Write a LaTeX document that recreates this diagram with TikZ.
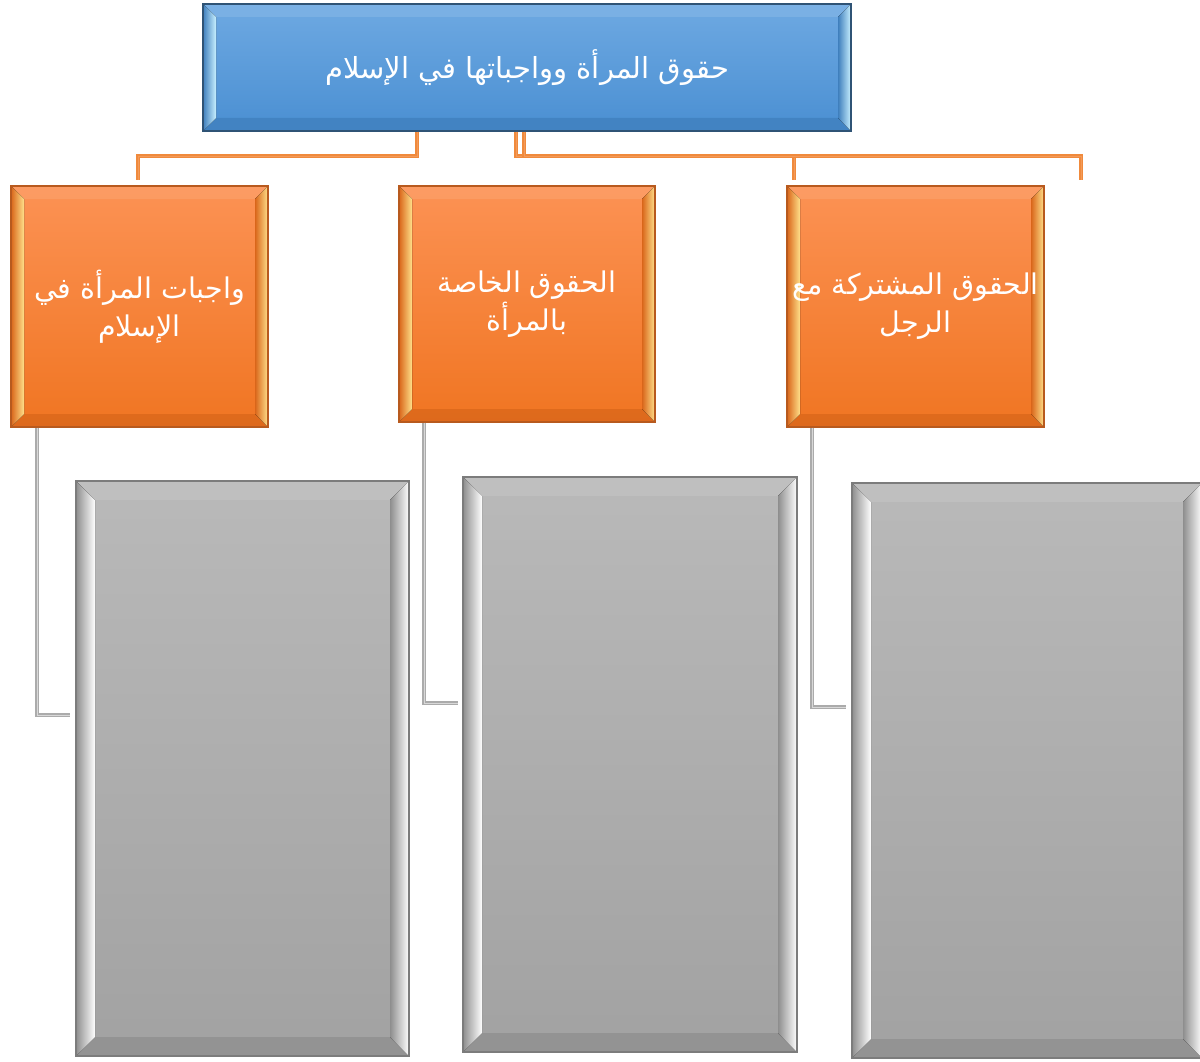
\documentclass[tikz,border=0pt]{standalone}
\usepackage{fontspec}
\newfontfamily\arabicfont[Script=Arabic]{DejaVu Sans}
\TeXXeTstate=1
\usetikzlibrary{calc}
\definecolor{bluetop}{HTML}{6EA9E2}
\definecolor{bluebot}{HTML}{4A8FD2}
\definecolor{blueedge}{HTML}{2F5375}
\definecolor{bluelight}{HTML}{C8F0FF}
\definecolor{bluedark}{HTML}{3F7FBD}
\definecolor{ortop}{HTML}{FC9254}
\definecolor{orbot}{HTML}{F07522}
\definecolor{oredge}{HTML}{B85A1E}
\definecolor{orlight}{HTML}{FFE08A}
\definecolor{ordark}{HTML}{D9661A}
\definecolor{grtop}{HTML}{B9B9B9}
\definecolor{grbot}{HTML}{A2A2A2}
\definecolor{gredge}{HTML}{7C7C7C}
\definecolor{grlight}{HTML}{FFFFFF}
\definecolor{grdark}{HTML}{8E8E8E}
\definecolor{conor}{HTML}{F08A3C}
\definecolor{conorl}{HTML}{F39A5A}
\definecolor{congr}{HTML}{ABABAB}
\definecolor{congrl}{HTML}{D8D8D8}
\tikzset{
  bevelbox/.style n args={6}{
    draw=#3, line width=1.2pt, top color=#1, bottom color=#2,
    text=white, align=center, inner sep=0pt,
    font=\arabicfont\fontsize{#6}{38}\selectfont,
    path picture={
      \path (path picture bounding box.north west) coordinate (pnw)
            (path picture bounding box.north east) coordinate (pne)
            (path picture bounding box.south west) coordinate (psw)
            (path picture bounding box.south east) coordinate (pse);
      % top strip
      \fill[#1!85!white, opacity=0.6] (pnw) -- (pne) -- ($(pne)+(-\bvw,-\bvw)$) -- ($(pnw)+(\bvw,-\bvw)$) -- cycle;
      % bottom strip
      \fill[#5, opacity=0.75] (psw) -- (pse) -- ($(pse)+(-\bvw,\bvw)$) -- ($(psw)+(\bvw,\bvw)$) -- cycle;
      % left strip
      \fill[left color=#5, right color=#4] (pnw) -- ($(pnw)+(\bvw,-\bvw)$) -- ($(psw)+(\bvw,\bvw)$) -- (psw) -- cycle;
      % right strip
      \fill[left color=#5, right color=#4] (pne) -- ($(pne)+(-\bvw,-\bvw)$) -- ($(pse)+(-\bvw,\bvw)$) -- (pse) -- cycle;
    }
  },
  mainbox/.style={bevelbox={bluetop}{bluebot}{blueedge}{bluelight}{bluedark}{29}},
  orbox/.style={bevelbox={ortop}{orbot}{oredge}{orlight}{ordark}{28.5}},
  grbox/.style={bevelbox={grtop}{grbot}{gredge}{grlight}{grdark}{28}},
  orcon/.style={draw=conor, line width=1.1pt, double=conorl, double distance=0.9pt},
  grcon/.style={draw=congr, line width=1.1pt, double=congrl, double distance=0.9pt},
}
\def\bvw{13pt}
\begin{document}
\begin{tikzpicture}[x=1pt,y=-1pt]
\useasboundingbox[fill=white] (0,0) rectangle (1200,1062);

% main box
\node[mainbox, minimum width=648pt, minimum height=127pt] (m) at (527,67.5)
  {\beginR حقوق المرأة وواجباتها في الإسلام\endR};

% orange boxes
\node[orbox, minimum width=257pt, minimum height=241pt] (o1) at (139.5,306.5)
  {\beginR واجبات المرأة في\endR\\\beginR الإسلام\endR};
\node[orbox, minimum width=256pt, minimum height=236pt] (o2) at (527,304)
  {\beginR الحقوق الخاصة\endR\\\beginR بالمرأة\endR};
\node[orbox, minimum width=257pt, minimum height=241pt] (o3) at (915.5,306.5)
  {\beginR الحقوق المشتركة مع\endR\\\beginR الرجل\endR};

% gray boxes
\def\bvw{19pt}
\node[grbox, minimum width=333pt, minimum height=575pt] (g1) at (242.5,768.5) {};
\node[grbox, minimum width=334pt, minimum height=575pt] (g2) at (630,764.5) {};
\node[grbox, minimum width=350pt, minimum height=575pt] (g3) at (1027,770.5) {};
\def\bvw{13pt}

% connector coordinates
\coordinate (a1) at (417,131);
\coordinate (h1) at (417,156);
\coordinate (e1) at (138,180);
\coordinate (a2) at (516,131);
\coordinate (e2) at (794,180);
\coordinate (a3) at (524,131);
\coordinate (e3) at (1081,180);

\draw[orcon] (m.south -| a1) -- (h1) -| (e1);
\draw[orcon] (m.south -| a2) |- (516,156) -| (e2);
\draw[orcon] (m.south -| a3) |- (524,156) -| (e3);

% gray connectors
\coordinate (f1) at (70,715);
\coordinate (f2) at (458,703);
\coordinate (f3) at (846,707);
\draw[grcon] (o1.south -| 37,0) |- (f1);
\draw[grcon] (o2.south -| 424,0) |- (f2);
\draw[grcon] (o3.south -| 812,0) |- (f3);
\end{tikzpicture}
\end{document}
